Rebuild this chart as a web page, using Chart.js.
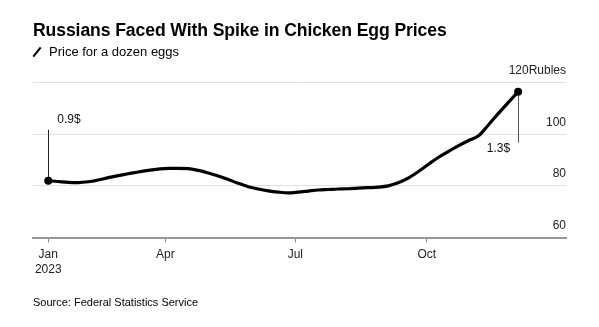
<!DOCTYPE html>
<html>
<head>
<meta charset="utf-8">
<script src="https://cdn.jsdelivr.net/npm/chart.js@4"></script>
<style>
  html, body { margin: 0; padding: 0; background: #fff; }
  #wrap { position: relative; width: 599px; height: 327px; overflow: hidden; font-family: "Liberation Sans", Arial, sans-serif; }
  #chartBox { position: absolute; left: 0; top: 0; width: 599px; height: 327px; }
  #title { position: absolute; left: 33px; top: 20px; font-size: 17.6px; font-weight: bold; color: #000; white-space: nowrap; letter-spacing: -0.1px; }
  #subtitle { position: absolute; left: 33px; top: 44px; font-size: 13px; color: #000; white-space: nowrap; }
  #subtitle .icon { display: inline-block; width: 8px; height: 10px; position: relative; margin-right: 8px; vertical-align: -1px; }
  #subtitle .icon::before { content: ""; position: absolute; left: 3px; top: -1px; width: 2px; height: 12px; background: #000; transform: rotate(38deg); }
  #source { position: absolute; left: 33px; top: 296px; font-size: 11px; color: #000; white-space: nowrap; }
</style>
</head>
<body>
<div id="wrap">
  <div id="chartBox"><canvas id="c"></canvas></div>
  <div id="title">Russians Faced With Spike in Chicken Egg Prices</div>
  <div id="subtitle"><span class="icon"></span>Price for a dozen eggs</div>
  <div id="source">Source: Federal Statistics Service</div>
</div>
<script>
// ---- Data ----
const weekDates = [
  '2023-01-09','2023-01-16','2023-01-23','2023-01-30',
  '2023-02-06','2023-02-13','2023-02-20','2023-02-27',
  '2023-03-06','2023-03-13','2023-03-20','2023-03-27',
  '2023-04-03','2023-04-10','2023-04-17','2023-04-24',
  '2023-05-01','2023-05-08','2023-05-15','2023-05-22','2023-05-29',
  '2023-06-05','2023-06-12','2023-06-19','2023-06-26',
  '2023-07-03','2023-07-10','2023-07-17','2023-07-24','2023-07-31',
  '2023-08-07','2023-08-14','2023-08-21','2023-08-28',
  '2023-09-04','2023-09-11','2023-09-18','2023-09-25',
  '2023-10-02','2023-10-09','2023-10-16','2023-10-23','2023-10-30',
  '2023-11-06','2023-11-13','2023-11-20','2023-11-27',
  '2023-12-04'
];
const eggPriceRub = [
  82.0, 81.7, 81.4, 81.3,
  81.6, 82.3, 83.2, 84.0,
  84.7, 85.4, 86.0, 86.5,
  86.8, 86.8, 86.7, 86.0,
  85.0, 83.8, 82.5, 81.0, 79.7,
  78.8, 78.1, 77.6, 77.3,
  77.6, 78.0, 78.4, 78.6, 78.8,
  78.9, 79.1, 79.3, 79.5,
  80.0, 81.2, 83.0, 85.5,
  88.3, 91.0, 93.3, 95.5, 97.5,
  99.3, 103.5, 108.0, 112.3,
  116.5
];
const xTickDates = ['2023-01-09', '2023-04-01', '2023-07-01', '2023-10-01'];
const xTickLabels = [['Jan', '2023'], 'Apr', 'Jul', 'Oct'];
const yTickValues = [60, 80, 100, 120];
const yUnitLabel = 'Rubles';
const usdStartLabel = '0.9$';
const usdEndLabel = '1.3$';

// ---- Helpers ----
const DAY = 86400000;
const dayOfYear = s => {
  const [y, m, d] = s.split('-').map(Number);
  return (Date.UTC(y, m - 1, d) - Date.UTC(2023, 0, 1)) / DAY;
};
const points = weekDates.map((d, i) => ({ x: dayOfYear(d), y: eggPriceRub[i] }));
const lastIdx = points.length - 1;

const FONT = '"Liberation Sans", Arial, sans-serif';

const annotations = {
  id: 'usdAnnotations',
  afterDatasetsDraw(chart) {
    const meta = chart.getDatasetMeta(0);
    const p0 = meta.data[0], p1 = meta.data[lastIdx];
    const ctx = chart.ctx;
    ctx.save();
    ctx.lineWidth = 1;
    ctx.strokeStyle = '#222';
    ctx.beginPath();
    ctx.moveTo(Math.round(p0.x) + 0.5, p0.y);
    ctx.lineTo(Math.round(p0.x) + 0.5, p0.y - 51);
    ctx.stroke();
    ctx.strokeStyle = '#555';
    ctx.beginPath();
    ctx.moveTo(Math.round(p1.x) + 0.5, p1.y);
    ctx.lineTo(Math.round(p1.x) + 0.5, p1.y + 51);
    ctx.stroke();
    ctx.fillStyle = '#111';
    ctx.font = '12px ' + FONT;
    ctx.textBaseline = 'middle';
    ctx.textAlign = 'left';
    ctx.fillText(usdStartLabel, p0.x + 9, p0.y - 61.5);
    ctx.textAlign = 'right';
    ctx.fillText(usdEndLabel, p1.x - 8, p1.y + 57);
    ctx.fillStyle = '#000';
    [p0, p1].forEach(p => { ctx.beginPath(); ctx.arc(p.x, p.y, 4, 0, Math.PI * 2); ctx.fill(); });
    ctx.restore();
  }
};

new Chart(document.getElementById('c'), {
  type: 'line',
  data: {
    datasets: [{
      data: points,
      borderColor: '#000',
      borderWidth: 3.2,
      cubicInterpolationMode: 'monotone',
      pointRadius: 0,
      pointHoverRadius: 0,
      fill: false
    }]
  },
  options: {
    responsive: true,
    maintainAspectRatio: false,
    animation: false,
    events: [],
    layout: { padding: { left: 33, right: 33, top: 82.7, bottom: 44.5 } },
    plugins: { legend: { display: false }, tooltip: { enabled: false } },
    scales: {
      x: {
        type: 'linear',
        min: -2.7,
        max: 370.5,
        afterBuildTicks: s => { s.ticks = xTickDates.map(d => ({ value: dayOfYear(d) })); },
        grid: { display: true, drawOnChartArea: false, drawTicks: true, tickLength: 5, color: '#888', lineWidth: 1 },
        border: { display: true, color: '#999', width: 2 },
        ticks: {
          autoSkip: false, maxRotation: 0, minRotation: 0, padding: 5,
          color: '#222', font: { family: FONT, size: 12, lineHeight: 1.25 },
          callback: (v, i) => xTickLabels[i]
        }
      },
      y: {
        position: 'right',
        min: 60,
        max: 120,
        afterBuildTicks: s => { s.ticks = yTickValues.map(v => ({ value: v })); },
        grid: { color: '#e0e0e0', lineWidth: 1, drawTicks: false },
        border: { display: false },
        ticks: {
          mirror: true, padding: 0, labelOffset: -12,
          color: '#222', font: { family: FONT, size: 12 },
          callback: v => (v === 120 ? v + yUnitLabel : String(v))
        }
      }
    }
  },
  plugins: [annotations]
});
</script>
</body>
</html>
